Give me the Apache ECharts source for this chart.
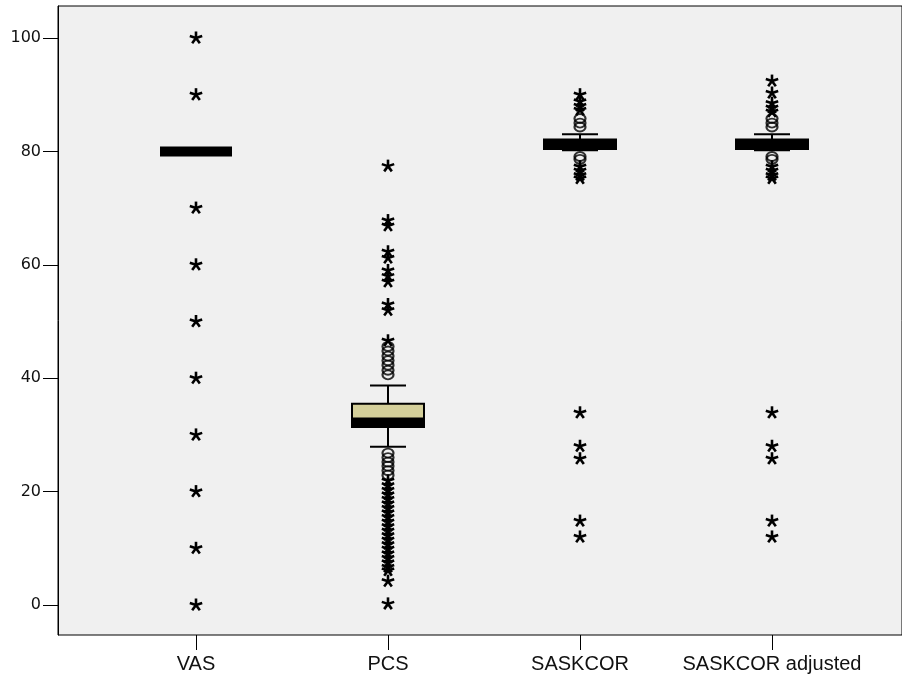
<!DOCTYPE html>
<html>
<head>
<meta charset="utf-8">
<script src="https://cdn.jsdelivr.net/npm/echarts@6/dist/echarts.min.js"></script>
<style>html,body{margin:0;padding:0;background:#fff}#c{width:902px;height:679px}</style>
</head>
<body>
<div id="c"></div>
<script>
// ---- data ----
const categories = ['VAS', 'PCS', 'SASKCOR', 'SASKCOR adjusted'];
const yTicks = [0, 20, 40, 60, 80, 100];
// [min whisker, Q1, median, Q3, max whisker]
const vasBox = [80, 80, 80, 80, 80];
const pcsBox = [27.9, 31.4, 32.2, 35.5, 38.7];
const saskBox = [80.2, 80.4, 81.2, 82.1, 83.0];
const adjBox = [80.2, 80.4, 81.2, 82.1, 83.0];
// outliers (circles) and extremes (stars)
const vasStars = [100, 90, 70, 60, 50, 40, 30, 20, 10, 0];
const vasCircles = [];
const pcsCircles = [45.6, 44.8, 43.9, 43.1, 42.3, 41.4, 40.6, 26.8, 26.0, 25.2, 24.5, 23.7, 22.9];
const pcsStars = [77.4, 67.8, 66.9, 62.3, 61.2, 59.0, 58.0, 57.0, 53.0, 52.0, 46.6,
  21.9, 21.1, 20.3, 19.5, 18.7, 17.9, 17.1, 16.3, 15.5, 14.7, 13.9, 13.1, 12.3, 11.5,
  10.7, 9.9, 9.1, 8.3, 7.5, 6.7, 6.1, 4.2, 0.2];
const saskCircles = [85.8, 85.0, 84.3, 79.1, 78.6];
const saskStars = [90.0, 88.8, 88.0, 87.3, 77.3, 76.6, 75.8, 75.2, 33.9, 28.0, 25.8, 14.8, 12.0];
const adjCircles = [85.8, 85.0, 84.3, 79.1, 78.6];
const adjStars = [92.4, 90.3, 88.5, 87.7, 87.0, 77.3, 76.6, 75.8, 75.2, 33.9, 28.0, 25.8, 14.8, 12.0];

// ---- build ----
const boxes = [vasBox, pcsBox, saskBox, adjBox];
const circleSets = [vasCircles, pcsCircles, saskCircles, adjCircles];
const starSets = [vasStars, pcsStars, saskStars, adjStars];
const boxData = boxes.map((b, i) => [i].concat(b));
const circleData = [];
circleSets.forEach((s, i) => s.forEach(v => circleData.push([i, v])));
const starData = [];
starSets.forEach((s, i) => s.forEach(v => starData.push([i, v])));

const yMin = -5.29, yMax = 105.64;
const chart = echarts.init(document.getElementById('c'), null, {renderer: 'canvas'});

function renderBox(params, api) {
  const i = api.value(0);
  const pMin = api.coord([i, api.value(1)]);
  const pQ1 = api.coord([i, api.value(2)]);
  const pMed = api.coord([i, api.value(3)]);
  const pQ3 = api.coord([i, api.value(4)]);
  const pMax = api.coord([i, api.value(5)]);
  const hw = api.size([1, 0])[0] * 0.375 / 2;
  const cx = pMed[0];
  const st = {stroke: '#000', lineWidth: 2};
  return {
    type: 'group',
    children: [
      {type: 'line', shape: {x1: cx, y1: pMax[1], x2: cx, y2: pQ3[1]}, style: st},
      {type: 'line', shape: {x1: cx, y1: pQ1[1], x2: cx, y2: pMin[1]}, style: st},
      {type: 'line', shape: {x1: cx - hw / 2, y1: pMax[1], x2: cx + hw / 2, y2: pMax[1]}, style: st},
      {type: 'line', shape: {x1: cx - hw / 2, y1: pMin[1], x2: cx + hw / 2, y2: pMin[1]}, style: st},
      {type: 'rect', shape: {x: cx - hw, y: pQ3[1], width: 2 * hw, height: pQ1[1] - pQ3[1]},
        style: {fill: '#d4cf9a', stroke: '#000', lineWidth: 2}},
      {type: 'rect', shape: {x: cx - hw, y: pMed[1] - 5, width: 2 * hw, height: 10},
        style: {fill: '#000'}}
    ]
  };
}

function renderStar(params, api) {
  const p = api.coord([api.value(0), api.value(1)]);
  const r = 6.5;
  const angles = [-90, -18, 54, 126, 198];
  const children = angles.map(a => {
    const rad = a * Math.PI / 180;
    return {type: 'line',
      shape: {x1: p[0], y1: p[1], x2: p[0] + r * Math.cos(rad), y2: p[1] + r * Math.sin(rad)},
      style: {stroke: '#000', lineWidth: 2.6, lineCap: 'butt'}};
  });
  return {type: 'group', children: children};
}

chart.setOption({
  animation: false,
  backgroundColor: '#fff',
  grid: [
    {left: 58, right: -2, top: 6, bottom: 44, show: true, backgroundColor: '#f0f0f0',
      borderColor: '#000', borderWidth: 1},
    {left: 100, right: 34, top: 6, bottom: 44, show: false}
  ],
  xAxis: [
    {type: 'value', gridIndex: 0, show: false},
    {type: 'category', gridIndex: 1, data: categories,
      axisLine: {show: false, onZero: false},
      axisTick: {show: true, alignWithLabel: true, interval: 0, length: 15, lineStyle: {color: '#000', width: 1}},
      axisLabel: {interval: 0, fontSize: 20, color: '#111', fontFamily: 'Liberation Sans', margin: 19}}
  ],
  yAxis: [
    {type: 'value', gridIndex: 0, min: yMin, max: yMax,
      splitLine: {show: false},
      axisLine: {show: true, lineStyle: {color: '#000', width: 1}},
      axisTick: {show: true, length: 15, customValues: yTicks, lineStyle: {color: '#000', width: 1}},
      axisLabel: {customValues: yTicks, fontSize: 16, color: '#111', fontFamily: 'DejaVu Sans', margin: 17}},
    {type: 'value', gridIndex: 1, min: yMin, max: yMax, show: false, splitLine: {show: false}}
  ],
  series: [
    {type: 'custom', xAxisIndex: 1, yAxisIndex: 1, renderItem: renderBox, data: boxData, z: 3},
    {type: 'scatter', xAxisIndex: 1, yAxisIndex: 1, data: circleData, symbol: 'circle', symbolSize: [11, 9],
      itemStyle: {color: 'rgba(0,0,0,0)', borderColor: '#000', borderWidth: 2}, z: 4},
    {type: 'custom', xAxisIndex: 1, yAxisIndex: 1, renderItem: renderStar, data: starData, z: 5}
  ]
});
</script>
</body>
</html>
